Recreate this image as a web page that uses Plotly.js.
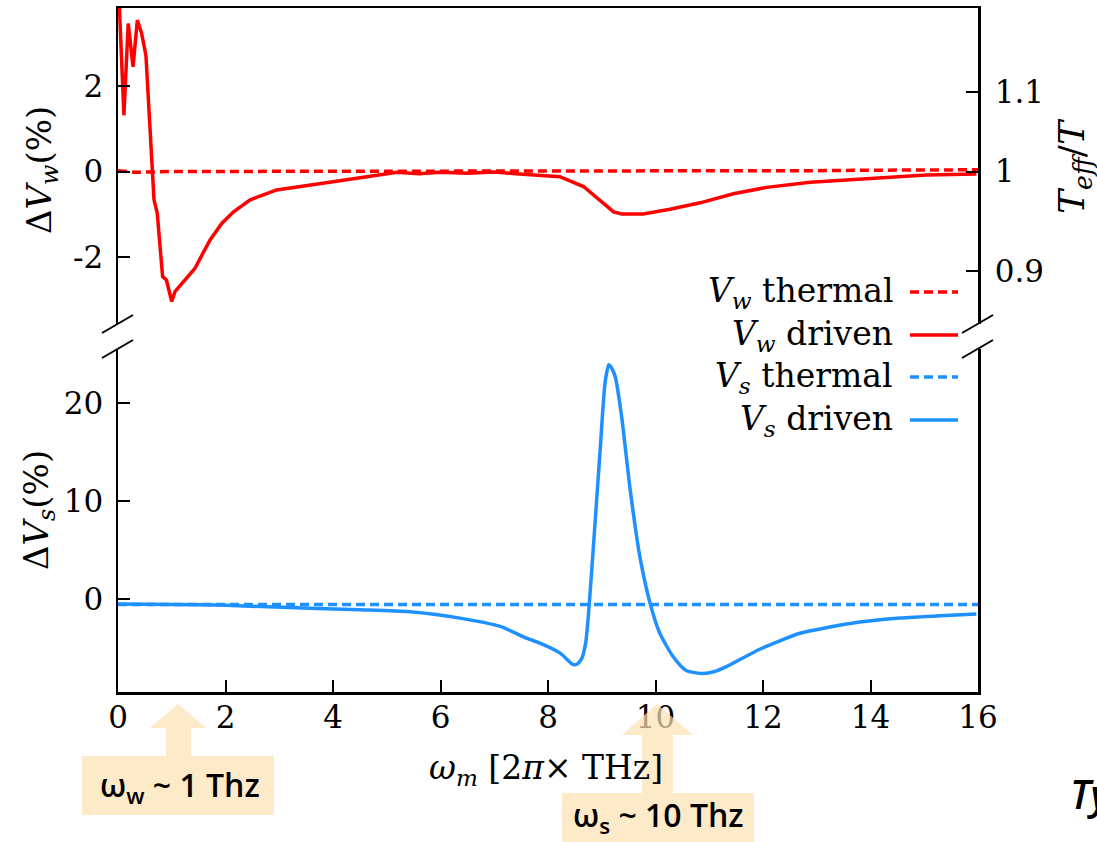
<!DOCTYPE html>
<html>
<head>
<meta charset="utf-8">
<script src="https://cdn.plot.ly/plotly-3.0.1.min.js"></script>
<style>
  html, body { margin: 0; padding: 0; background: #ffffff; }
  #chart { width: 1097px; height: 842px; }
</style>
</head>
<body>
<div id="chart"></div>
<script>
// ---- Data: modulation frequency ω_m (2π×THz) vs. relative change of the potentials ----

// V_w driven (upper panel, ΔV_w in %)
const wDrivenOmega = [0.02, 0.11, 0.19, 0.28, 0.36, 0.44, 0.52, 0.57, 0.63, 0.67, 0.73, 0.83, 0.90, 1.00, 1.06,
  1.43, 1.71, 1.80, 1.93, 2.15, 2.46, 2.95, 3.5, 4.0, 4.6, 5.19, 5.6, 6.0, 6.5, 7.0, 7.4, 7.8, 8.22, 8.66,
  9.0, 9.22, 9.37, 9.77, 10.27, 10.83, 11.45, 12.07, 12.88, 13.5, 14.11, 15.04, 15.97];
const wDrivenDV = [4.0, 1.31, 3.45, 2.44, 3.53, 3.22, 2.7, 1.6, 0.15, -0.66, -0.97, -2.45, -2.53, -3.03, -2.80,
  -2.26, -1.60, -1.45, -1.21, -0.94, -0.66, -0.43, -0.34, -0.24, -0.13, -0.02, -0.05, -0.02, -0.04, -0.01, -0.05, -0.08, -0.12, -0.35,
  -0.70, -0.94, -0.99, -0.99, -0.88, -0.73, -0.52, -0.37, -0.25, -0.20, -0.14, -0.08, -0.06];

// V_w thermal (upper panel)
const wThermalOmega = [0, 0.3, 1, 2, 3, 4, 5, 6, 7, 8, 9, 10, 11, 12, 13, 14, 15, 16];
const wThermalDV = [0.02, -0.02, 0, 0, 0.01, 0, 0, 0.01, 0, 0, 0.01, 0, 0, 0.01, 0.02, 0.03, 0.04, 0.04];

// V_s driven (lower panel, ΔV_s in %)
const sDrivenOmega = [0, 1, 2, 3.57, 4.5, 5.43, 6.36, 7.11, 7.6, 7.85, 8.22, 8.47, 8.55, 8.63, 8.70, 8.75, 8.84,
  8.97, 9.06, 9.13, 9.18, 9.25, 9.37, 9.53, 9.71, 9.9, 10.08, 10.33, 10.57, 10.89, 11.1, 11.32, 11.95,
  12.69, 13.62, 14.55, 15.3, 15.97];
const sDrivenDV = [-0.5, -0.55, -0.65, -0.95, -1.1, -1.3, -1.95, -2.8, -4.0, -4.5, -5.5, -6.7, -6.6, -6.05, -4.5, -1.8, 4.99,
  15.2, 22.0, 23.9, 23.6, 22.7, 18.6, 11.1, 4.3, -0.45, -3.5, -5.9, -7.3, -7.6, -7.4, -6.9, -5.1,
  -3.5, -2.5, -1.95, -1.7, -1.53];

// V_s thermal (lower panel)
const sThermalOmega = [0, 2, 4, 6, 8, 10, 12, 14, 16];
const sThermalDV = [-0.55, -0.55, -0.55, -0.55, -0.55, -0.55, -0.55, -0.55, -0.55];

// Tick labels
const omegaTicks = [0, 2, 4, 6, 8, 10, 12, 14, 16];
const dVwTicks = [-2, 0, 2];
const dVwTickText = ['-2', '0', '2'];
const dVsTicks = [0, 10, 20];
const teffTickText = ['1.1', '1', '0.9'];
const teffTickAt = [1.846, 0, -2.312];   // where T_eff/T values fall on the ΔV_w scale

const seriesNames = ['<i>V</i><sub><i>w</i></sub> thermal', '<i>V</i><sub><i>w</i></sub> driven',
                     '<i>V</i><sub><i>s</i></sub> thermal', '<i>V</i><sub><i>s</i></sub> driven'];

// ---- Geometry helpers (pixel -> paper) ----
const W = 1097, H = 842;
const L = 118, R = 978, T = 8, B = 692;
const px = x => (x - L) / (R - L);
const py = y => (B - y) / (B - T);

const RED = 'rgb(255,0,0)';
const BLUE = 'rgb(30,144,255)';
const SERIF = 'DejaVu Serif, Liberation Serif, serif';
const SANS = 'Open Sans, Lato, sans-serif';
const DASH = '9px,5px';

// The thermal V_w curve is plotted against the right-hand (T_eff/T) axis, which shares the ΔV_w range.
const traces = [
  { x: wThermalOmega, y: wThermalDV, xaxis: 'x2', yaxis: 'y3', mode: 'lines',
    line: { color: RED, width: 3.5, dash: DASH }, name: 'Vw thermal' },
  { x: wDrivenOmega, y: wDrivenDV, xaxis: 'x2', yaxis: 'y2', mode: 'lines',
    line: { color: RED, width: 3.5 }, name: 'Vw driven' },
  { x: sThermalOmega, y: sThermalDV, xaxis: 'x', yaxis: 'y', mode: 'lines',
    line: { color: BLUE, width: 3.5, dash: DASH }, name: 'Vs thermal' },
  { x: sDrivenOmega, y: sDrivenDV, xaxis: 'x', yaxis: 'y', mode: 'lines',
    line: { color: BLUE, width: 3.5, shape: 'spline', smoothing: 0.6 }, name: 'Vs driven' }
];

const tickFont = { family: SERIF, size: 31, color: '#000' };
const axisCommon = {
  showgrid: false, zeroline: false, showline: true, linecolor: '#000', linewidth: 2.5,
  ticks: 'inside', ticklen: 12, tickwidth: 2, tickcolor: '#000', tickfont: tickFont
};

const topDom = [py(324), 1];
const botDom = [0, py(349)];

// Upper-panel range so that 0 sits at y=171.5 px with 42.9 px per %
const vwRange = [(171.5 - 324) / 42.9, (171.5 - 8) / 42.9];
// Lower-panel range so that 0 sits at y=599 px with 9.8 px per %
const vsRange = [-(692 - 599) / 9.8, (599 - 349) / 9.8];

// Legend rows (text at the left of a line sample)
const legendRows = [
  { y: 292, color: RED, dash: DASH },
  { y: 335, color: RED, dash: 'solid' },
  { y: 377, color: BLUE, dash: DASH },
  { y: 420, color: BLUE, dash: 'solid' }
];

const annotations = [];
const shapes = [];

legendRows.forEach((r, i) => {
  annotations.push({ xref: 'paper', yref: 'paper', x: px(895), y: py(r.y), xanchor: 'right', yanchor: 'middle',
    text: seriesNames[i], showarrow: false, font: { family: SERIF, size: 33, color: '#000' } });
  shapes.push({ type: 'line', xref: 'paper', yref: 'paper', x0: px(910), x1: px(958), y0: py(r.y), y1: py(r.y),
    line: { color: r.color, width: 3.5, dash: r.dash } });
});

// Axis titles
annotations.push(
  { xref: 'paper', yref: 'paper', x: px(42), y: py(170), textangle: -90, xanchor: 'center', yanchor: 'middle',
    text: 'Δ<i>V</i><sub><i>w</i></sub>(%)', showarrow: false, font: { family: SERIF, size: 34, color: '#000' } },
  { xref: 'paper', yref: 'paper', x: px(38), y: py(510), textangle: -90, xanchor: 'center', yanchor: 'middle',
    text: 'Δ<i>V</i><sub><i>s</i></sub>(%)', showarrow: false, font: { family: SERIF, size: 34, color: '#000' } },
  { xref: 'paper', yref: 'paper', x: px(1074), y: py(166), textangle: -90, xanchor: 'center', yanchor: 'middle',
    text: '<i>T</i><sub><i>eff</i></sub>/<i>T</i>', showarrow: false, font: { family: SERIF, size: 36, color: '#000' } },
  { xref: 'paper', yref: 'paper', x: px(546), y: py(769), xanchor: 'center', yanchor: 'middle',
    text: '<i>ω</i><sub><i>m</i></sub> [2<i>π</i>× THz]', showarrow: false, font: { family: SERIF, size: 33, color: '#000' } }
);

// Axis-break marks
[[102, 333, 133, 315], [102, 358, 133, 340], [962, 333, 993, 315], [962, 358, 993, 340]].forEach(s => {
  shapes.push({ type: 'line', xref: 'paper', yref: 'paper', x0: px(s[0]), y0: py(s[1]), x1: px(s[2]), y1: py(s[3]),
    line: { color: '#000', width: 2 } });
});

// Highlight arrows with labelled boxes
const PALE = 'rgb(252,225,176)';
function arrowPath(tipX, tipY, headY, headL, headR, stemL, stemR, stemB) {
  return 'M' + px(tipX) + ',' + py(tipY) +
    ' L' + px(headR) + ',' + py(headY) + ' L' + px(stemR) + ',' + py(headY) +
    ' L' + px(stemR) + ',' + py(stemB) + ' L' + px(stemL) + ',' + py(stemB) +
    ' L' + px(stemL) + ',' + py(headY) + ' L' + px(headL) + ',' + py(headY) + ' Z';
}
shapes.push(
  { type: 'path', xref: 'paper', yref: 'paper', layer: 'above', path: arrowPath(178, 704, 728, 150, 206, 166, 191, 756),
    fillcolor: PALE, opacity: 0.7, line: { width: 0 } },
  { type: 'rect', xref: 'paper', yref: 'paper', layer: 'above', x0: px(82), x1: px(274), y0: py(756), y1: py(815),
    fillcolor: PALE, opacity: 0.7, line: { width: 0 } },
  { type: 'path', xref: 'paper', yref: 'paper', layer: 'above', path: arrowPath(657, 704, 735, 622, 693, 642, 673, 793),
    fillcolor: PALE, opacity: 0.7, line: { width: 0 } },
  { type: 'rect', xref: 'paper', yref: 'paper', layer: 'above', x0: px(562), x1: px(754), y0: py(793), y1: py(860),
    fillcolor: PALE, opacity: 0.7, line: { width: 0 } }
);
annotations.push(
  { xref: 'paper', yref: 'paper', x: px(180), y: py(787), xanchor: 'center', yanchor: 'middle',
    text: 'ω<sub>w</sub> ~ 1 Thz', showarrow: false, font: { family: SANS, size: 32, weight: 600, color: '#000' } },
  { xref: 'paper', yref: 'paper', x: px(658), y: py(817), xanchor: 'center', yanchor: 'middle',
    text: 'ω<sub>s</sub> ~ 10 Thz', showarrow: false, font: { family: SANS, size: 32, weight: 600, color: '#000' } },
  { xref: 'paper', yref: 'paper', x: px(1068), y: py(793), xanchor: 'left', yanchor: 'middle',
    text: '<i>Ty</i>', showarrow: false, font: { family: SANS, size: 40, weight: 600, color: '#000' } },
  { xref: 'paper', yref: 'paper', x: px(1072), y: py(852), xanchor: 'left', yanchor: 'middle',
    text: '<i>c</i>', showarrow: false, font: { family: SANS, size: 40, weight: 600, color: '#000' } }
);

const layout = {
  width: W, height: H,
  margin: { l: L, r: W - R, t: T, b: H - B, pad: 0 },
  paper_bgcolor: '#ffffff', plot_bgcolor: '#ffffff',
  showlegend: false,
  font: { family: SERIF, color: '#000' },
  xaxis: Object.assign({}, axisCommon, {
    domain: [0, 1], anchor: 'y', range: [0, 16], tickvals: omegaTicks, ticklabelstandoff: -4
  }),
  yaxis: Object.assign({}, axisCommon, {
    domain: botDom, anchor: 'x', range: vsRange, tickvals: dVsTicks, mirror: true, ticklabelstandoff: 6
  }),
  xaxis2: Object.assign({}, axisCommon, {
    domain: [0, 1], anchor: 'y2', side: 'top', matches: 'x', range: [0, 16],
    ticks: '', showticklabels: false
  }),
  yaxis2: Object.assign({}, axisCommon, {
    domain: topDom, anchor: 'x2', range: vwRange, tickvals: dVwTicks, ticktext: dVwTickText, ticklabelstandoff: 6
  }),
  yaxis3: Object.assign({}, axisCommon, {
    domain: topDom, anchor: 'x2', overlaying: 'y2', side: 'right', range: vwRange,
    tickvals: teffTickAt, ticktext: teffTickText, ticklabelstandoff: 8
  }),
  annotations: annotations,
  shapes: shapes
};

Plotly.newPlot('chart', traces, layout, { displayModeBar: false, staticPlot: true });
</script>
</body>
</html>
